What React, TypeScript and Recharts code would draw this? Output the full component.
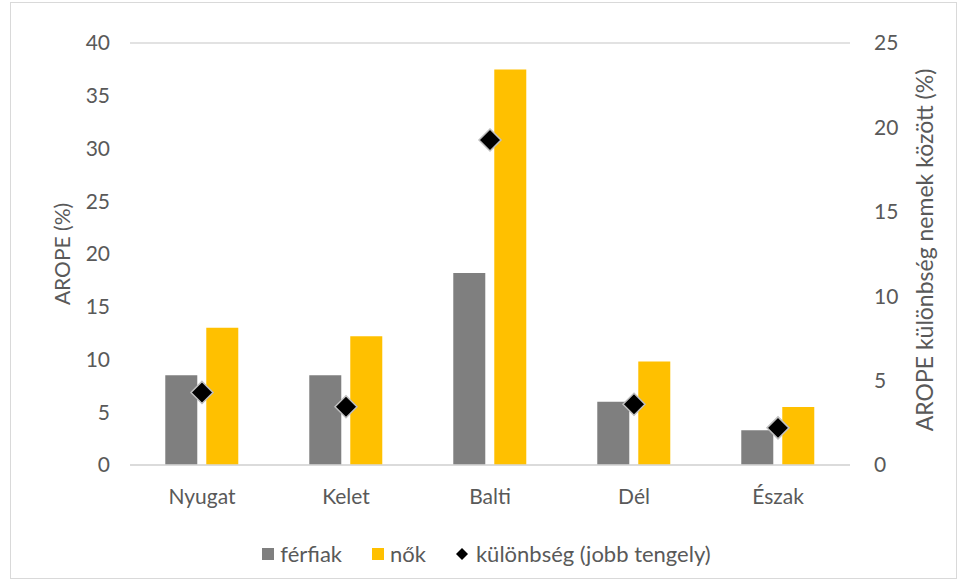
import React from 'react';
import { ComposedChart, Bar, Scatter, XAxis, YAxis, CartesianGrid, Legend } from 'recharts';

const regions = ['Nyugat', 'Kelet', 'Balti', 'Dél', 'Észak'];
const ferfiak = [8.5, 8.5, 18.2, 6.0, 3.3];
const nok = [13.0, 12.2, 37.5, 9.8, 5.5];
const kulonbseg = [4.3, 3.45, 19.25, 3.6, 2.2];
const leftTicks = [0, 5, 10, 15, 20, 25, 30, 35, 40];
const rightTicks = [0, 5, 10, 15, 20, 25];

const data = regions.map((name, i) => ({
  name,
  ferfiak: ferfiak[i],
  nok: nok[i],
  diff: kulonbseg[i],
}));

const TEXT = '#595959';
const FONT = 'Lato, "Open Sans", sans-serif';
const FS = 21;

const Diamond = (props: any) => {
  const { cx, cy } = props;
  const r = 11;
  return (
    <polygon
      points={`${cx},${cy - r} ${cx + r},${cy} ${cx},${cy + r} ${cx - r},${cy}`}
      fill="#000"
      stroke="#bfbfbf"
      strokeWidth={1.5}
    />
  );
};

const LegendBox = () => (
  <div style={{ display: 'flex', justifyContent: 'center', alignItems: 'center', fontFamily: FONT, fontSize: 22, color: TEXT, paddingLeft: 8 }}>
    <span style={{ display: 'inline-block', width: 12, height: 12, background: '#7f7f7f', marginRight: 6 }} />
    <span style={{ marginRight: 30 }}>férfiak</span>
    <span style={{ display: 'inline-block', width: 12, height: 12, background: '#ffc000', marginRight: 6 }} />
    <span style={{ marginRight: 30 }}>nők</span>
    <svg width={12} height={12} style={{ marginRight: 8 }}>
      <polygon points="6,0 12,6 6,12 0,6" fill="#000" />
    </svg>
    <span>különbség (jobb tengely)</span>
  </div>
);

export default function App() {
  return (
    <div style={{ position: 'absolute', left: 10, top: 2, width: 945, height: 575, border: '1px solid #d9d9d9', background: '#fff' }}>
      <ComposedChart
        width={943}
        height={573}
        data={data}
        margin={{ top: 40, right: 0, bottom: 6, left: 0 }}
        barGap={9}
        barCategoryGap="24.5%"
      >
        <CartesianGrid vertical={false} stroke="#d9d9d9" strokeWidth={1.5} />
        <XAxis
          dataKey="name"
          axisLine={{ stroke: '#d9d9d9', strokeWidth: 1.5 }}
          tickLine={false}
          height={75}
          tickMargin={18}
          tick={{ fill: TEXT, fontSize: FS, fontFamily: FONT }}
        />
        <YAxis
          yAxisId="left"
          width={119}
          domain={[0, 40]}
          ticks={leftTicks}
          axisLine={false}
          tickLine={false}
          tickMargin={14}
          tick={{ fill: TEXT, fontSize: FS, fontFamily: FONT }}
          label={{ value: 'AROPE (%)', angle: -90, position: 'center', dx: -8, fill: TEXT, fontSize: FS, fontFamily: FONT }}
        />
        <YAxis
          yAxisId="right"
          orientation="right"
          width={104}
          domain={[0, 25]}
          ticks={rightTicks}
          axisLine={false}
          tickLine={false}
          tickMargin={18}
          tick={{ fill: TEXT, fontSize: FS, fontFamily: FONT, textAnchor: 'start' }}
          label={{ value: 'AROPE különbség nemek között (%)', angle: -90, position: 'center', dx: 23, dy: -4, fill: TEXT, fontSize: 23, fontFamily: FONT }}
        />
        <Legend verticalAlign="bottom" height={30} content={<LegendBox />} />
        <Bar yAxisId="left" dataKey="ferfiak" fill="#7f7f7f" isAnimationActive={false} />
        <Bar yAxisId="left" dataKey="nok" fill="#ffc000" isAnimationActive={false} />
        <Scatter yAxisId="right" dataKey="diff" shape={<Diamond />} isAnimationActive={false} />
      </ComposedChart>
    </div>
  );
}
